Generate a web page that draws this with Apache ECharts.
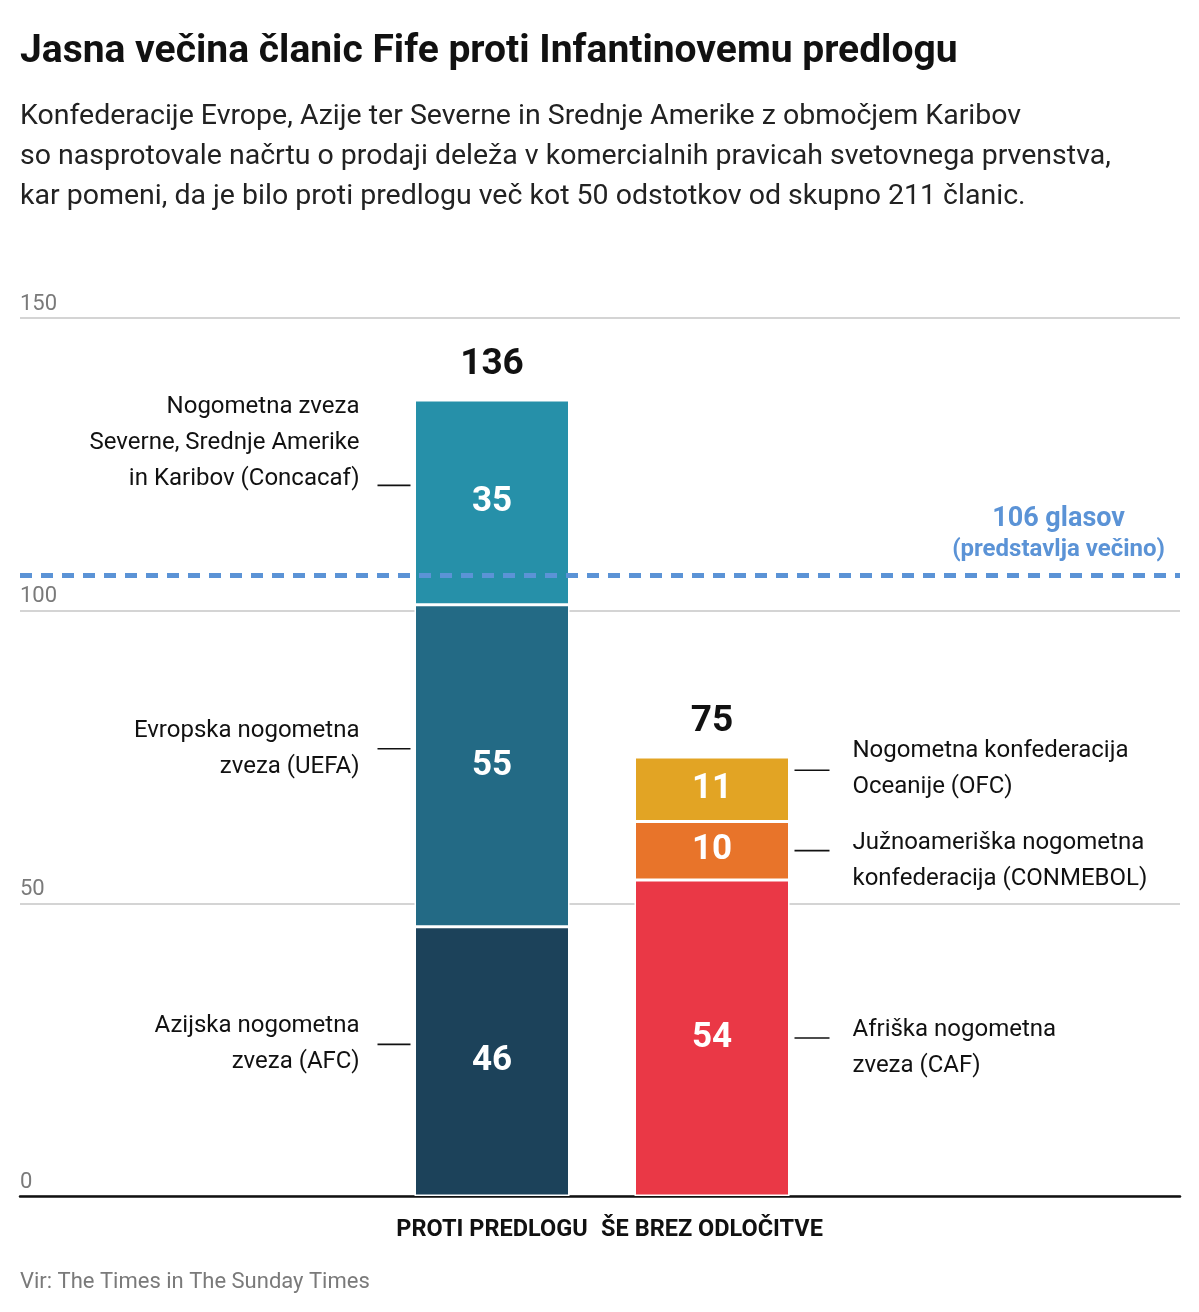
<!DOCTYPE html>
<html>
<head>
<meta charset="utf-8">
<script src="https://cdn.jsdelivr.net/npm/echarts@6/dist/echarts.min.js"></script>
<style>
html,body{margin:0;padding:0;background:#fff;}
#main{width:1199px;height:1312px;}
</style>
</head>
<body>
<div id="main"></div>
<script>
// ---- data ----
const categories = ['PROTI PREDLOGU', 'ŠE BREZ ODLOČITVE'];
const segmentNames = ['AFC', 'UEFA', 'Concacaf', 'CAF', 'CONMEBOL', 'OFC'];
const segmentCategory = [0, 0, 0, 1, 1, 1];
const segmentValues = [46, 55, 35, 54, 10, 11];
const segmentLabels = [
  'Azijska nogometna\nzveza (AFC)',
  'Evropska nogometna\nzveza (UEFA)',
  'Nogometna zveza\nSeverne, Srednje Amerike\nin Karibov (Concacaf)',
  'Afriška nogometna\nzveza (CAF)',
  'Južnoameriška nogometna\nkonfederacija (CONMEBOL)',
  'Nogometna konfederacija\nOceanije (OFC)'
];
const majorityValue = 106;
const majorityLabel = ['106 glasov', '(predstavlja večino)'];
const yTicks = [0, 50, 100, 150];

// ---- styles ----
const colors = ['#1c425a', '#236a85', '#2690a9', '#ea3846', '#e8742a', '#e2a424'];
const FONT = 'Roboto, "Noto Sans", sans-serif';

// build stacked series
const barSeries = segmentNames.map((name, i) => {
  const data = categories.map((c, ci) => ci === segmentCategory[i] ? segmentValues[i] : '-');
  return {
    name: name,
    type: 'bar',
    stack: 'votes',
    xAxisIndex: 1,
    yAxisIndex: 1,
    barWidth: 155,
    data: data,
    itemStyle: { color: colors[i], borderColor: '#ffffff', borderWidth: 1.5 },
    label: {
      show: true,
      position: 'inside',
      color: '#ffffff',
      fontFamily: FONT,
      fontWeight: 'bold',
      fontSize: 35
    },
    emphasis: { disabled: true }
  };
});

// totals
const totals = categories.map((c, ci) =>
  segmentValues.reduce((s, v, i) => s + (segmentCategory[i] === ci ? v : 0), 0));

// annotation midpoints
const annData = [];
const baseAcc = categories.map(() => 0);
segmentValues.forEach((v, i) => {
  const ci = segmentCategory[i];
  annData.push([ci, baseAcc[ci] + v / 2, i]);
  baseAcc[ci] += v;
});

const chart = echarts.init(document.getElementById('main'), null, { renderer: 'canvas' });

const option = {
  backgroundColor: '#ffffff',
  animation: false,
  title: [
    {
      text: 'Jasna večina članic Fife proti Infantinovemu predlogu',
      left: 20, top: 33, padding: 0,
      textStyle: { fontFamily: FONT, fontWeight: 'bold', fontSize: 39, color: '#111111' }
    },
    {
      text: 'Konfederacije Evrope, Azije ter Severne in Srednje Amerike z območjem Karibov\nso nasprotovale načrtu o prodaji deleža v komercialnih pravicah svetovnega prvenstva,\nkar pomeni, da je bilo proti predlogu več kot 50 odstotkov od skupno 211 članic.',
      left: 20, top: 97, padding: 0,
      textStyle: { fontFamily: FONT, fontWeight: 'normal', fontSize: 28.5, lineHeight: 40, color: '#222222' }
    },
    {
      text: 'Vir: The Times in The Sunday Times',
      left: 20, top: 1271, padding: 0,
      textStyle: { fontFamily: FONT, fontWeight: 'normal', fontSize: 22, color: '#7a7a7a' }
    }
  ],
  grid: [
    { left: 20, right: 19, top: 318, bottom: 116 },
    { left: 382, right: 377, top: 318, bottom: 116 }
  ],
  xAxis: [
    {
      gridIndex: 0, type: 'value', min: 0, max: 1,
      axisLine: { show: true, onZero: false, lineStyle: { color: '#111111', width: 2.5 } },
      axisTick: { show: false }, axisLabel: { show: false }, splitLine: { show: false }
    },
    {
      gridIndex: 1, type: 'category', data: categories,
      axisLine: { show: false }, axisTick: { show: false },
      axisLabel: {
        interval: 0, margin: 22, color: '#111111', fontFamily: FONT, fontWeight: 'bold', fontSize: 23.5
      }
    }
  ],
  yAxis: [
    {
      gridIndex: 0, type: 'value', min: 0, max: 150, interval: 50,
      axisLine: { show: false }, axisTick: { show: false },
      splitLine: { show: true, lineStyle: { color: '#d4d4d4', width: 2 } },
      axisLabel: {
        inside: true, margin: 0, align: 'left', verticalAlign: 'bottom',
        padding: [0, 0, 3, 0],
        color: '#7a7a7a', fontFamily: FONT, fontSize: 22,
        formatter: v => yTicks.indexOf(v) >= 0 ? String(v) : ''
      }
    },
    {
      gridIndex: 1, type: 'value', min: 0, max: 150, interval: 50, show: false
    }
  ],
  series: [
    {
      type: 'line', xAxisIndex: 0, yAxisIndex: 0, data: [], silent: true,
      markLine: {
        silent: true, symbol: 'none',
        lineStyle: { color: '#5b93d6', width: 5, type: [12, 9] },
        label: {
          show: true, position: 'insideEndTop', distance: [15, 10],
          formatter: '{a|' + majorityLabel[0] + '}\n{b|' + majorityLabel[1] + '}',
          align: 'right',
          rich: {
            a: { fontFamily: FONT, fontWeight: 'bold', fontSize: 27, color: '#5b93d6', lineHeight: 31, align: 'center' },
            b: { fontFamily: FONT, fontWeight: 'bold', fontSize: 24, color: '#5b93d6', lineHeight: 31, align: 'center' }
          }
        },
        data: [{ yAxis: majorityValue }]
      }
    },
    ...barSeries,
    {
      type: 'scatter', xAxisIndex: 1, yAxisIndex: 1, symbolSize: 0, silent: true,
      data: totals,
      itemStyle: { opacity: 1 },
      label: {
        show: true, position: 'top', distance: 17, opacity: 1,
        color: '#111111', fontFamily: FONT, fontWeight: 'bold', fontSize: 37
      }
    },
    {
      type: 'custom', xAxisIndex: 1, yAxisIndex: 1, silent: true, clip: false,
      data: annData,
      renderItem: function (params, api) {
        const ci = api.value(0);
        const idx = api.value(2);
        const p = api.coord([ci, api.value(1)]);
        const half = 77.5;
        const text = segmentLabels[idx];
        const nLines = text.split('\n').length;
        let y, textY, x1, x2, tx, align;
        if (ci === 0) {
          y = p[1] - 17;
          textY = y - (nLines - 2) * 42;
          x1 = p[0] - half - 37; x2 = p[0] - half - 4;
          tx = x1 - 18; align = 'right';
        } else {
          y = p[1];
          textY = y + 10;
          if (idx === 5) { y = p[1] - 19; textY = y - 1; }
          x1 = p[0] + half + 5; x2 = p[0] + half + 40;
          tx = x2 + 23; align = 'left';
        }
        return {
          type: 'group',
          children: [
            { type: 'line', shape: { x1: x1, y1: y, x2: x2, y2: y },
              style: { stroke: '#111111', lineWidth: 1.6 } },
            { type: 'text', style: {
                text: text, x: tx, y: textY, align: align, verticalAlign: 'middle',
                fill: '#111111', font: 'normal 24px ' + FONT, lineHeight: 36
            } }
          ]
        };
      }
    }
  ]
};

chart.setOption(option);
</script>
</body>
</html>
